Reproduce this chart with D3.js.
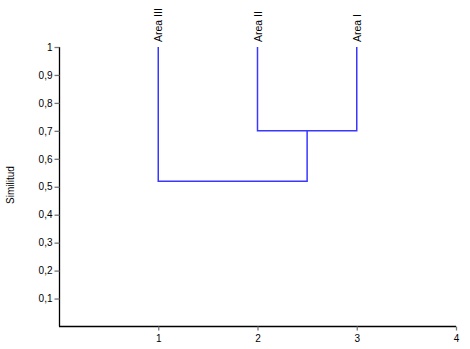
<!DOCTYPE html>
<html>
<head>
<meta charset="utf-8">
<script src="https://cdn.jsdelivr.net/npm/d3@7"></script>
<style>
  body { margin: 0; background: #fff; }
  svg text { font-family: "Liberation Sans", Arial, sans-serif; fill: #000; }
</style>
</head>
<body>
<svg id="chart" width="470" height="349"></svg>
<script>
// leaves: name, x position
var leafNames = ["Area III", "Area II", "Area I"];
var leafPos = [1, 2, 3];
// merges: left x, right x, top of each child, merge similarity
var mergeLeft = [2, 1];
var mergeRight = [3, 2.5];
var mergeLeftTop = [1, 1];
var mergeRightTop = [1, 0.7];
var mergeSim = [0.7, 0.52];
var yTicks = [0.1, 0.2, 0.3, 0.4, 0.5, 0.6, 0.7, 0.8, 0.9, 1];
var xTicks = [1, 2, 3, 4];

var svg = d3.select("#chart");
var x = d3.scaleLinear().domain([0, 4]).range([59, 456]);
var y = d3.scaleLinear().domain([0, 1]).range([326.5, 47]);

// axes
var xAxis = svg.append("g").attr("transform", "translate(0,326.5)")
    .call(d3.axisBottom(x).tickValues(xTicks).tickSize(4).tickPadding(4).tickFormat(d3.format("d")));
var yAxis = svg.append("g").attr("transform", "translate(59.5,0)")
    .call(d3.axisLeft(y).tickValues(yTicks).tickSize(5).tickPadding(2)
        .tickFormat(function(d){ return d === 1 ? "1" : String(d).replace(".", ","); }));

[xAxis, yAxis].forEach(function(a){
    a.select(".domain").attr("stroke", "#000").attr("stroke-width", 1.3);
    a.selectAll(".tick line").attr("stroke", "#777").attr("stroke-width", 1.3);
    a.selectAll(".tick text").attr("font-size", 10).attr("fill", "#000")
        .style("font-family", "'Liberation Sans', Arial, sans-serif");
});
yAxis.select(".domain").attr("d", "M0," + y(1) + "V" + y(0));
xAxis.select(".domain").attr("d", "M" + x(0) + ",0H" + x(4));

// dendrogram links
var g = svg.append("g").attr("fill", "none").attr("stroke", "#3838ff").attr("stroke-width", 1.5);
for (var i = 0; i < mergeSim.length; i++) {
    g.append("path").attr("d",
        "M" + x(mergeLeft[i]) + "," + y(mergeLeftTop[i]) +
        "V" + y(mergeSim[i]) +
        "H" + x(mergeRight[i]) +
        "V" + y(mergeRightTop[i]));
}

// leaf labels
svg.selectAll(".leaf").data(leafNames).enter().append("text")
    .attr("class", "leaf")
    .attr("transform", function(d, i){ return "translate(" + (x(leafPos[i]) + 4) + ",42) rotate(-90)"; })
    .attr("font-size", 10.5)
    .text(function(d){ return d; });

// y label
svg.append("text")
    .attr("transform", "translate(14,185) rotate(-90)")
    .attr("text-anchor", "middle")
    .attr("font-size", 10)
    .text("Similitud");
</script>
</body>
</html>
